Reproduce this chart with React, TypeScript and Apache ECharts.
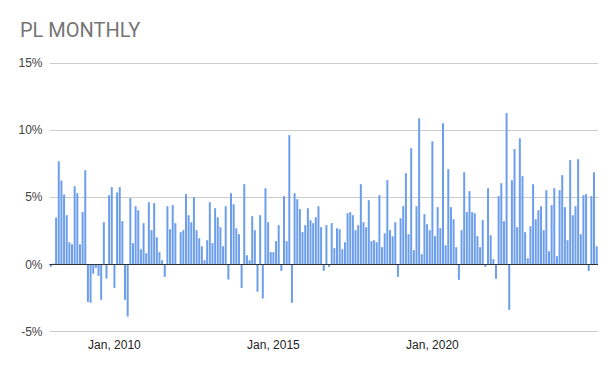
import React, { useEffect, useRef } from "react";
import * as echarts from "echarts";

const TITLE = "PL MONTHLY";
const START_YEAR = 2008;
const MONTH_COUNT = 207;
const MONTH_NAMES = ["Jan", "Feb", "Mar", "Apr", "May", "Jun", "Jul", "Aug", "Sep", "Oct", "Nov", "Dec"];
const TICK_LABELS = ["Jan, 2010", "Jan, 2015", "Jan, 2020"];
const Y_TICKS = [-5, 0, 5, 10, 15];

const VALUES_2008_2010 = [
  -0.17, 0.07, 3.5, 7.69, 6.25, 5.21, 3.67, 1.66, 1.51, 5.83, 5.31, 1.51,
  3.9, 7.02, -2.78, -2.85, -0.69, -0.25, -0.84, -2.63, 3.15, -1.04, 5.16, 5.76,
  -1.74, 5.36, 5.76, 3.23, -2.63, -3.87, 4.94, 1.59, 4.34, 4.04, 1.14, 3.08,
];
const VALUES_2011_2013 = [
  0.84, 4.64, 2.56, 4.57, 2.03, 0.92, 0.32, -0.92, 4.34, 2.63, 4.42, 3.08,
  0, 2.41, 2.56, 5.24, 3.67, 3.15, 5.01, 2.56, 1.96, 1.36, 0.32, 1.81,
  4.64, 1.59, 4.19, 3.52, 2.78, 1.36, 4.34, -1.12, 5.31, 4.49, 2.7, 2.26,
];
const VALUES_2014_2016 = [
  -1.74, 5.98, 0.69, 0.32, 3.6, 2.56, -2.03, 3.67, -2.53, 5.68, 3.15, 0.92,
  0.92, 1.74, 2.93, -0.47, 5.09, 1.74, 9.63, -2.85, 5.31, 4.86, 4.12, 2.41,
  2.93, 4.19, 3.3, 3.08, 3.52, 4.34, 2.78, -0.47, 2.93, -0.17, 3.08, 1.22,
];
const VALUES_2017_2019 = [
  2.7, 2.63, 1.14, 1.66, 3.82, 3.9, 3.67, 2.56, 2.93, 5.98, 3.15, 2.78,
  4.79, 1.74, 1.81, 1.66, 5.16, 1.29, 2.33, 6.28, 2.56, 2.11, 3.15, -0.92,
  3.45, 4.34, 6.8, 2.26, 8.66, 1.07, 4.34, 10.89, 0.77, 3.75, 3.0, 2.56,
];
const VALUES_2020_2022 = [
  9.18, 2.11, 4.27, 2.7, 10.52, 1.44, 7.1, 4.27, 3.37, 1.29, -1.14, 2.56,
  6.87, 3.9, 5.46, 3.9, 3.82, 2.11, 1.29, 3.3, -0.17, 5.68, 2.18, 0.4,
  -1.07, 5.09, 6.05, 3.23, 11.27, -3.37, 6.28, 8.59, 2.78, 9.4, 6.58, 2.41,
];
const VALUES_2023_2025 = [
  0.47, 2.85, 5.98, 3.37, 4.04, 4.34, 2.56, 5.53, 0.99, 4.42, 5.68, 0.62,
  5.53, 6.65, 4.27, 1.81, 7.77, 3.67, 4.34, 7.84, 2.26, 5.16, 5.24, -0.47,
  5.09, 6.87, 1.36,
];

const VALUES = [
  ...VALUES_2008_2010,
  ...VALUES_2011_2013,
  ...VALUES_2014_2016,
  ...VALUES_2017_2019,
  ...VALUES_2020_2022,
  ...VALUES_2023_2025,
];

const CATEGORIES: string[] = [];
for (let i = 0; i < MONTH_COUNT; i++) {
  CATEGORIES.push(`${MONTH_NAMES[i % 12]}, ${START_YEAR + Math.floor(i / 12)}`);
}

const FONT = "'Liberation Sans', Arial, sans-serif";

export default function App() {
  const ref = useRef<HTMLDivElement>(null);
  useEffect(() => {
    if (!ref.current) return;
    const chart = echarts.init(ref.current, null, { renderer: "svg" });
    chart.setOption({
      animation: false,
      backgroundColor: "#ffffff",
      title: {
        text: TITLE,
        left: 20,
        top: 20,
        padding: 0,
        textStyle: { fontFamily: "Roboto, sans-serif", fontSize: 20, fontWeight: "normal", color: "#757575" },
      },
      grid: { left: 49.5, right: 18, top: 63, bottom: 39.3, containLabel: false },
      xAxis: {
        type: "category",
        data: CATEGORIES,
        boundaryGap: true,
        axisLine: { show: false, onZero: false },
        axisTick: { show: false },
        splitLine: { show: false },
        axisLabel: {
          interval: (_i: number, v: string) => TICK_LABELS.includes(v),
          color: "#222",
          fontFamily: FONT,
          fontSize: 12,
          margin: 7,
        },
      },
      yAxis: {
        type: "value",
        min: Y_TICKS[0],
        max: Y_TICKS[Y_TICKS.length - 1],
        interval: 5,
        axisLine: { show: false },
        axisTick: { show: false },
        splitLine: { lineStyle: { color: "#cccccc", width: 1 } },
        axisLabel: {
          formatter: "{value}%",
          color: "#444",
          fontFamily: FONT,
          fontSize: 12,
          margin: 7,
        },
      },
      series: [
        {
          type: "bar",
          data: VALUES,
          barWidth: 2,
          itemStyle: { color: "#6d9eeb" },
          markLine: {
            silent: true,
            symbol: ["none", "none"],
            label: { show: false },
            lineStyle: { color: "#333333", width: 1, type: "solid" },
            data: [{ yAxis: 0 }],
          },
        },
      ],
    });
    return () => chart.dispose();
  }, []);
  return (
    <div
      ref={ref}
      style={{ position: "fixed", left: 0, top: 0, width: 616, height: 371 }}
    />
  );
}
